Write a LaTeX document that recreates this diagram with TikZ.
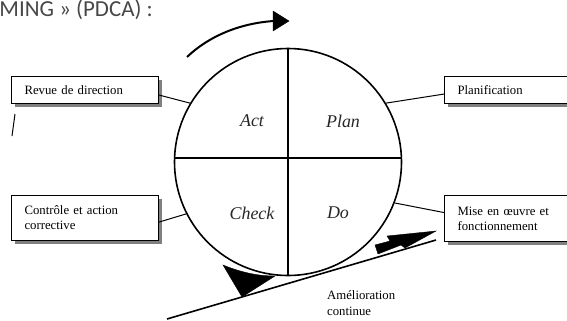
\documentclass[tikz,border=0pt]{standalone}
\usepackage{fontspec}
\setmainfont{Liberation Serif}
\newfontfamily\headfont{Carlito}
\usetikzlibrary{shadows}
\tikzset{
  infobox/.style={draw=black, line width=1.1bp, fill=white, inner xsep=13bp, inner ysep=0bp,
    align=left, font=\fontsize{12.8}{15}\selectfont, text=black,
    drop shadow={shadow xshift=3bp, shadow yshift=-3bp, fill=black!50, opacity=1}},
  link/.style={line width=1bp},
  quad/.style={font=\itshape\fontsize{18}{18}\selectfont, text=black!85},
  blackhead/.style={fill=black, draw=black, line join=miter}
}
\begin{document}
\begin{tikzpicture}[x=1bp,y=-1bp]
\useasboundingbox (0,0) rectangle (567,320);
\clip (0,0) rectangle (567,320);
% heading
\node[anchor=base east, inner sep=0, font=\headfont\fontsize{23}{23}\selectfont, text=black!72] (head) at (153,16) {MING » (PDCA) :};
% circle
\node[draw, circle, line width=1.6bp, minimum size=227bp, inner sep=0] (c) at (288,162) {};
\draw[line width=1.5bp] (c.north) -- (c.south);
\draw[line width=1.5bp] ([yshift=4bp]c.west) -- ([yshift=4bp]c.east);
\node[quad] (act) at (252,121) {Act};
\node[quad] (plan) at (343,121) {Plan};
\node[quad] (check) at (252,213) {Check};
\node[quad] (do) at (338,213) {Do};
% boxes
\node[infobox, anchor=north west, minimum width=147bp, minimum height=27bp, text width=121bp] (rev) at (11,76) {Revue de direction};
\node[infobox, anchor=north west, minimum width=147bp, minimum height=45bp, text width=121bp] (ctl) at (11,195) {Contrôle et action\\corrective};
\node[infobox, anchor=north west, minimum width=160bp, minimum height=27bp, text width=134bp] (pla) at (444,76) {Planification};
\node[infobox, anchor=north west, minimum width=160bp, minimum height=46bp, text width=134bp] (mis) at (444,195) {Mise en œuvre et\\fonctionnement};
% connectors
\draw[link] ([yshift=-5bp]rev.east) -- (c.149);
\draw[link] ([yshift=-4bp]pla.west) -- (c.31);
\draw[link] ([yshift=-4bp]ctl.east) -- (c.207);
\draw[link] ([yshift=6bp]mis.west) -- (c.-21);
% stray mark
\coordinate (s1) at (15,114);
\coordinate (s2) at (12,136);
\draw[line width=1bp] (s1) -- (s2);
% top rotating arrow
\coordinate (a0) at (187,57);
\coordinate (a1) at (274,21);
\draw[line width=2bp] (a0) .. controls (210,35) and (242,23) .. (a1);
\fill[blackhead] (273,11) -- (289,21) -- (273,31) -- cycle;
% slope line
\coordinate (l0) at (167,319);
\coordinate (l1) at (436,240);
\draw[line width=1.6bp] (l0) -- (l1);
% wedge under the circle
\fill[blackhead] (223,265) .. controls (245,274) and (262,276) .. (275,276) -- (242,297) -- cycle;
% progress arrow
\fill[blackhead] (375,245) -- (390,241) -- (387,236) -- (436,231) -- (405,248) -- (401,245) -- (378,254) -- cycle;
% label
\node[anchor=north west, inner sep=0, align=left, font=\fontsize{12.8}{16}\selectfont, text=black] (am) at (327,290) {Amélioration\\continue};
\end{tikzpicture}
\end{document}
